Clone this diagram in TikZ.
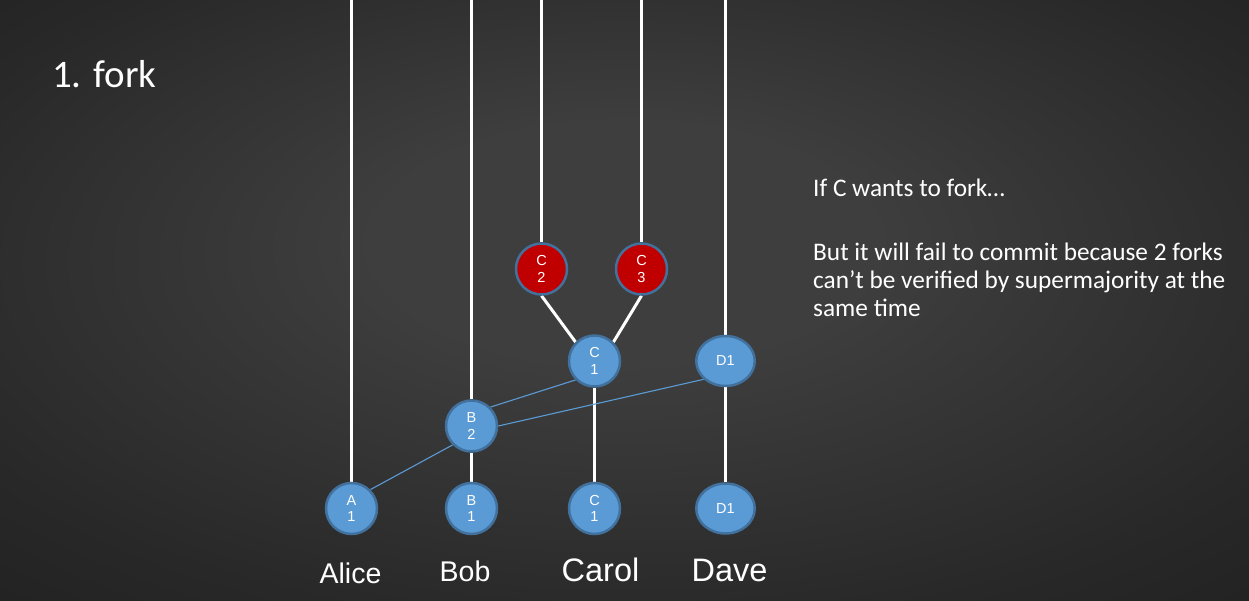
\documentclass[tikz,border=0pt]{standalone}
\usepackage{fontspec}
\setmainfont{Liberation Sans}
\newfontfamily\calibri{Carlito}
\usetikzlibrary{shapes.geometric}
\pgfdeclarelayer{bg}
\pgfsetlayers{bg,main}
\definecolor{nodefill}{HTML}{5B9BD5}
\definecolor{nodeborder}{HTML}{41719C}
\definecolor{forkred}{HTML}{C00000}
\definecolor{bgin}{RGB}{62,62,62}
\definecolor{bgmid}{RGB}{40,40,40}
\definecolor{bgout}{RGB}{24,24,24}
\pgfdeclareradialshading{bgshade}{\pgfpoint{0bp}{6bp}}{color(0bp)=(bgin); color(10bp)=(bgin); color(30bp)=(bgmid); color(50bp)=(bgout)}
\begin{document}
\begin{tikzpicture}[x=1pt,y=-1pt,
  ev/.style={circle, draw=nodeborder, line width=2.5pt, fill=nodefill, text=white,
    minimum size=51pt, inner sep=0pt, align=center,
    font=\fontsize{14.5}{16.7}\selectfont},
  fk/.style={ev, fill=forkred},
  evd/.style={ellipse, draw=nodeborder, line width=2.5pt, fill=nodefill, text=white,
    minimum width=58.5pt, minimum height=50pt, inner sep=0pt,
    font=\fontsize{14.5}{16.7}\selectfont},
  chain/.style={draw=white, line width=3pt},
  gossip/.style={draw=nodefill, line width=1.1pt},
  lblsmall/.style={text=white, anchor=base, inner sep=0pt, font=\fontsize{28.5}{34}\selectfont},
  lblbig/.style={text=white, anchor=base, inner sep=0pt, font=\fontsize{32.5}{38}\selectfont},
  note/.style={text=white, anchor=base west, inner sep=0pt, align=left,
    font=\calibri\fontsize{25.3}{28}\selectfont}
]
\useasboundingbox (0,0) rectangle (1249,601);
\begin{pgfonlayer}{bg}
  \path[shading=bgshade] (0,0) rectangle (1249,601);
\end{pgfonlayer}
\coordinate (top) at (0,0);

% nodes
\node[ev]  (A1)  at (351.5,508.5) {A\\1};
\node[ev]  (B1)  at (471.5,508.5) {B\\1};
\node[ev]  (C1l) at (594.5,508.5) {C\\1};
\node[evd] (D1l) at (725.5,508.5) {D1};
\node[ev]  (B2)  at (471.5,426) {B\\2};
\node[ev]  (C1u) at (594.5,361) {C\\1};
\node[evd] (D1u) at (725.5,361) {D1};
\node[fk]  (C2)  at (541.5,269) {C\\2};
\node[fk]  (C3)  at (641.5,269) {C\\3};

% connectors
\begin{pgfonlayer}{bg}
  \draw[chain] (A1.north) -- (A1.north |- top);
  \draw[chain] (B2.north) -- (B2.north |- top);
  \draw[chain] (B1.north) -- (B2.south);
  \draw[chain] (C2.north) -- (C2.north |- top);
  \draw[chain] (C3.north) -- (C3.north |- top);
  \draw[chain] (D1u.north) -- (D1u.north |- top);
  \draw[chain] (D1l.north) -- (D1u.south);
  \draw[chain] (C1l.north) -- (C1u.south);
  \draw[chain] (C2.south) -- (C1u.135);
  \draw[chain] (C3.south) -- (C1u.45);
  \draw[gossip] (A1.45) -- (B2.225);
  \draw[gossip] (B2.45) -- (C1u.225);
  \draw[gossip] (B2.east) -- (D1u.220);
\end{pgfonlayer}

% labels
\node[lblsmall] (alice) at (350.5,583) {Alice};
\node[lblsmall] (bob)   at (465,581) {Bob};
\node[lblbig]   (carol) at (600.5,581) {Carol};
\node[lblbig]   (dave)  at (729.5,581) {Dave};

\node[text=white, anchor=base west, inner sep=0pt, font=\calibri\fontsize{39}{47}\selectfont]
  (title) at (52,88) {1. fork};

\node[note] (note1) at (813,196.7) {If C wants to fork…};
\node[note] (note2) at (813,316.7) {But it will fail to commit because 2 forks\\can’t be verified by supermajority at the\\same time};
\end{tikzpicture}
\end{document}
